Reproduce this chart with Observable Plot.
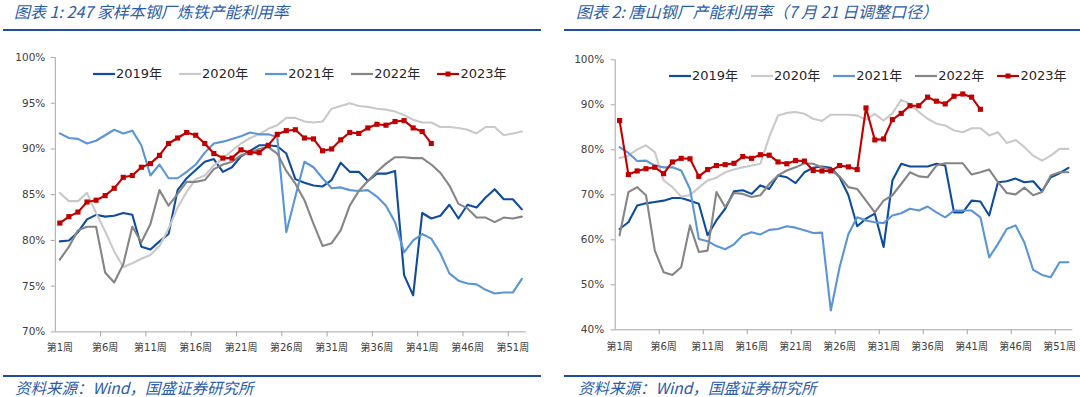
<!DOCTYPE html>
<html><head><meta charset="utf-8">
<script src="https://cdn.jsdelivr.net/npm/d3@7"></script>
<script src="https://cdn.jsdelivr.net/npm/@observablehq/plot@0.6"></script>
<style>
html,body{margin:0;padding:0;background:#fff;}
#wrap{position:relative;width:1080px;height:397px;overflow:hidden;font-family:"DejaVu Sans","Noto Sans CJK SC",sans-serif;}
.title,.src{position:absolute;font-family:"Noto Sans CJK SC",sans-serif;font-style:italic;line-height:20px;color:#2A5CAA;white-space:nowrap;}
.title{font-size:16px;}
.src{font-size:15.5px;}
.hline{position:absolute;height:2px;background:#1F4E9E;}
.chart{position:absolute;top:0;}
.legend{position:absolute;display:flex;font-size:13px;line-height:16px;color:#262626;white-space:nowrap;}
.legend .item{display:flex;align-items:center;}
.legend svg{display:block;margin-right:1px;}
</style></head>
<body><div id="wrap"></div>
<script>
// ---------- data ----------
const years = ["2019年", "2020年", "2021年", "2022年", "2023年"];
const colors = ["#0F4C9E", "#C9C9C9", "#5B95D6", "#858585", "#C00000"];
const labelWeeks = [1, 6, 11, 16, 21, 26, 31, 36, 41, 46, 51];
const yTicks1 = [70, 75, 80, 85, 90, 95, 100];
const yTicks2 = [40, 50, 60, 70, 80, 90, 100];
const title1 = "图表 1:  247 家样本钢厂炼铁产能利用率";
const title2 = "图表 2:  唐山钢厂产能利用率（7 月 21 日调整口径）";
const source = "资料来源：Wind，国盛证券研究所";

// 247 家样本钢厂炼铁产能利用率 (%)
const c1_2019 = [79.9,80.0,80.9,82.3,82.8,82.6,82.7,83.0,82.8,79.3,79.0,79.9,80.7,85.5,86.8,87.7,88.6,88.9,87.5,88.0,89.2,89.8,90.4,90.4,90.3,89.5,86.7,86.3,86.0,85.9,86.6,88.5,87.5,87.5,86.5,87.3,87.3,87.6,76.2,74.0,83.0,82.4,82.7,83.9,82.4,83.9,83.6,84.7,85.6,84.5,84.5,83.4];
const c1_2020 = [85.2,84.3,84.3,85.2,83.0,81.0,78.8,77.1,77.5,78.0,78.4,79.4,81.3,83.6,85.3,86.7,87.1,88.2,89.0,89.8,90.6,91.2,91.6,92.2,92.6,93.4,93.4,93.0,92.9,93.0,94.4,94.7,95.0,94.7,94.6,94.4,94.3,94.1,93.7,93.2,92.9,92.9,92.4,92.4,92.3,92.1,91.7,92.4,92.4,91.5,91.7,91.9];
const c1_2021 = [91.7,91.2,91.1,90.6,90.9,91.5,92.1,91.7,92.0,90.4,87.1,88.3,86.8,86.8,87.5,88.3,89.6,90.6,90.8,91.1,91.4,91.8,91.6,91.6,91.3,80.9,84.8,88.6,88.0,86.8,85.7,85.8,85.5,85.4,85.5,84.8,83.8,82.0,78.7,80.0,80.7,80.2,78.6,76.4,75.6,75.3,75.2,74.6,74.2,74.3,74.3,75.8];
const c1_2022 = [77.9,79.3,81.1,81.5,81.5,76.5,75.4,77.4,81.5,79.8,81.8,85.5,83.8,85.1,86.4,86.4,86.6,87.8,88.3,88.6,89.3,89.6,90.0,90.2,89.5,87.6,86.2,84.4,81.8,79.4,79.7,81.1,83.8,85.4,86.5,87.5,88.4,89.1,89.1,89.0,89.0,88.3,87.4,86.0,84.0,83.5,82.5,82.5,82.0,82.5,82.4,82.6];
const c1_2023 = [81.9,82.6,83.1,84.2,84.4,84.9,85.7,86.9,87.1,88.0,88.4,89.3,90.6,91.2,91.8,91.5,90.6,89.5,89.0,89.0,89.9,89.6,89.6,90.4,91.6,92.0,92.1,91.2,91.1,89.8,90.0,91.0,91.8,91.7,92.3,92.7,92.6,93.0,93.1,92.3,91.9,90.6];

// 唐山钢厂产能利用率 (%)
const c2_2019 = [62.4,63.9,67.6,68.1,68.4,68.7,69.3,69.3,68.7,68.0,61.0,64.3,66.9,70.8,71.0,70.2,72.1,71.3,74.3,73.9,72.6,75.0,76.0,76.3,76.0,73.9,69.9,63.0,64.7,65.8,58.4,73.2,76.9,76.3,76.3,76.3,76.9,76.5,66.1,66.1,68.7,68.5,65.4,72.8,73.0,73.6,72.8,73.0,70.8,73.9,74.8,76.0];
const c2_2020 = [78.2,78.7,80.1,81.0,79.5,73.2,71.7,69.6,69.9,71.6,73.2,73.8,75.0,75.6,76.1,76.5,76.9,82.8,87.6,88.2,88.4,88.0,86.9,86.4,87.8,87.8,87.8,87.6,86.7,88.0,86.5,88.1,91.1,90.2,88.4,86.9,85.8,85.4,84.3,83.9,84.8,84.8,83.2,83.9,81.5,82.2,80.6,78.7,77.6,78.7,80.2,80.2];
const c2_2021 = [80.6,79.3,77.5,77.6,76.5,76.1,76.1,75.4,71.3,60.2,59.7,58.6,57.9,59.0,61.0,61.7,61.2,62.2,62.4,63.0,62.7,62.1,61.5,61.6,44.3,53.9,61.3,65.0,64.3,63.9,63.7,65.4,65.9,66.9,66.5,67.4,66.1,65.0,66.5,66.5,66.5,65.0,56.1,59.1,62.4,63.2,59.4,53.3,52.2,51.7,55.0,55.0];
const c2_2022 = [61.0,70.6,71.7,69.9,57.6,52.8,52.2,53.9,63.2,57.3,57.6,70.6,67.3,70.4,70.2,69.5,69.9,72.4,74.3,75.4,76.1,77.0,76.9,76.1,75.5,74.1,71.7,71.3,68.7,66.1,68.7,69.9,72.4,75.0,74.1,73.9,76.5,77.0,77.0,77.0,74.5,75.0,75.6,72.8,70.4,70.1,71.6,69.9,70.6,74.3,75.0,75.0];
const c2_2023 = [86.5,74.5,75.3,75.8,76.1,74.7,77.3,78.1,78.0,74.1,75.6,76.5,76.7,77.0,78.5,78.1,78.9,78.8,77.3,76.9,77.6,77.5,75.4,75.3,75.3,76.5,76.2,75.6,89.3,82.2,82.4,86.7,88.1,89.8,89.8,91.7,90.8,90.2,91.9,92.4,91.7,89.0];

// ---------- build ----------
function table(series) {
  const rows = [];
  series.forEach((vals, i) => vals.forEach((v, j) => rows.push({year: years[i], week: j + 1, value: v})));
  return rows;
}
const wrap = document.getElementById("wrap");
const axisGray = "#A6A6A6", textGray = "#404040";

function makeChart(series, yTicks, geom) {
  const data = table(series);
  const nWeeks = Math.max(...series.map(s => s.length));
  const xDom = [0.5, nWeeks + 0.5];
  const bounds = labelWeeks.slice(1).map(w => w - 0.5);
  return Plot.plot({
    width: 540, height: 365,
    marginLeft: geom.ml, marginRight: geom.mr, marginTop: geom.mt, marginBottom: geom.mb,
    style: {fontFamily: '"DejaVu Sans","Noto Sans CJK SC",sans-serif', background: "transparent"},
    x: {domain: xDom, axis: null, label: null},
    y: {domain: [yTicks[0], yTicks[yTicks.length - 1]], axis: null, label: null},
    color: {domain: years, range: colors},
    marks: [
      Plot.ruleY([yTicks[0]], {stroke: axisGray, strokeWidth: 1}),
      Plot.ruleX([xDom[0]], {stroke: axisGray, strokeWidth: 1}),
      Plot.axisY(yTicks, {label: null, tickSize: 4, tickPadding: geom.yPad, tickFormat: d => d + "%", fontSize: 10.5, stroke: axisGray, fill: textGray}),
      Plot.axisX(bounds, {label: null, tickSize: 5, tickFormat: () => "", stroke: axisGray}),
      Plot.axisX(labelWeeks, {label: null, tickSize: 0, tickPadding: geom.xPad, tickFormat: w => `第${w}周`, fontSize: 10, fill: textGray}),
      Plot.line(data, {x: "week", y: "value", z: "year", stroke: "year", strokeWidth: 2.1, strokeLinejoin: "round"}),
      Plot.dot(data.filter(d => d.year === years[4]), {x: "week", y: "value", symbol: "square", r: 2.9, fill: colors[4], stroke: null})
    ]
  });
}

function addDiv(cls, css, text) {
  const d = document.createElement("div");
  d.className = cls;
  Object.assign(d.style, css);
  if (text != null) d.textContent = text;
  wrap.appendChild(d);
  return d;
}

function addLegend(left, top, gap) {
  const lg = addDiv("legend", {left: left + "px", top: top + "px", gap: gap + "px"});
  years.forEach((y, i) => {
    const it = document.createElement("div");
    it.className = "item";
    const svg = d3.create("svg").attr("width", 22).attr("height", 10);
    svg.append("line").attr("x1", 0).attr("x2", 22).attr("y1", 5).attr("y2", 5)
      .attr("stroke", colors[i]).attr("stroke-width", 2.2);
    if (i === 4) svg.append("rect").attr("x", 8.5).attr("y", 2.5).attr("width", 5).attr("height", 5).attr("fill", colors[i]);
    it.appendChild(svg.node());
    const t = document.createElement("span");
    t.textContent = y;
    it.appendChild(t);
    lg.appendChild(it);
  });
}

const p1 = makeChart([c1_2019, c1_2020, c1_2021, c1_2022, c1_2023], yTicks1, {ml: 54.8, mr: 14.1, mt: 57, mb: 33.6, yPad: 6, xPad: 12});
p1.classList.add("chart"); p1.style.left = "0px";
wrap.appendChild(p1);
const p2 = makeChart([c2_2019, c2_2020, c2_2021, c2_2022, c2_2023], yTicks2, {ml: 74.7, mr: 7.7, mt: 59.3, mb: 35.7, yPad: 7, xPad: 13});
p2.classList.add("chart"); p2.style.left = "540px";
wrap.appendChild(p2);

addDiv("title", {left: "14px", top: "1px"}, title1);
addDiv("title", {left: "576px", top: "1px"}, title2);
addDiv("hline", {left: "3px", width: "538px", top: "29px"});
addDiv("hline", {left: "564px", width: "516px", top: "29px"});
addDiv("hline", {left: "3px", width: "538px", top: "375px"});
addDiv("hline", {left: "564px", width: "516px", top: "375px"});
addDiv("src", {left: "15px", top: "377px"}, source);
addDiv("src", {left: "578px", top: "377px"}, source);

addLegend(93, 66, 17);
addLegend(669, 68, 13);
</script>
</body></html>
